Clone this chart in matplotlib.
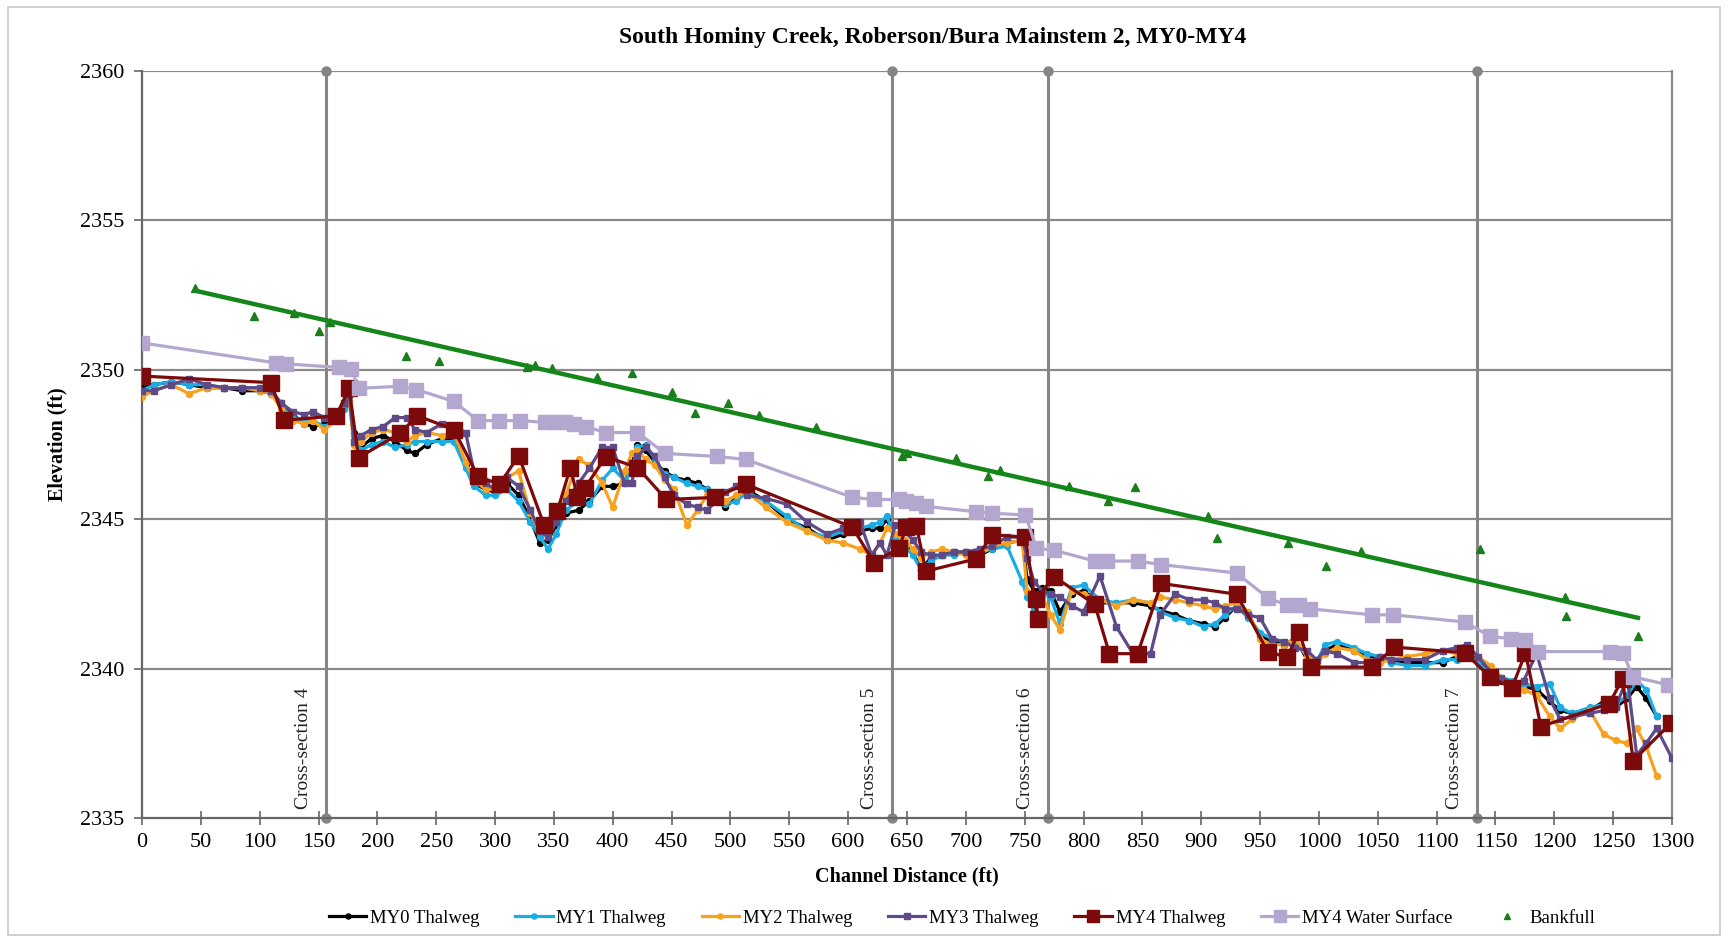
import matplotlib
matplotlib.use('Agg')
import matplotlib.pyplot as plt
from matplotlib.patches import Rectangle

plt.rcParams['font.family'] = ['Liberation Serif', 'DejaVu Serif']

# ---------------- text ----------------
title = "South Hominy Creek, Roberson/Bura Mainstem 2, MY0-MY4"
x_label = "Channel Distance (ft)"
y_label = "Elevation (ft)"
x_ticks = [0, 50, 100, 150, 200, 250, 300, 350, 400, 450, 500, 550, 600, 650,
           700, 750, 800, 850, 900, 950, 1000, 1050, 1100, 1150, 1200, 1250, 1300]
y_ticks = [2335, 2340, 2345, 2350, 2355, 2360]

# ---------------- cross-sections ----------------
cs_names = ["Cross-section 4", "Cross-section 5", "Cross-section 6", "Cross-section 7"]
cs_x = [156, 637, 770, 1134]

# ---------------- thalweg survey stations (MY0-MY3) ----------------
thalweg_x = [0, 10, 25, 40, 55, 70, 85, 100, 110, 118,
             128, 138, 145, 155, 165, 172, 176, 180, 186, 195,
             205, 215, 225, 232, 242, 255, 265, 275, 282, 292,
             300, 310, 320, 330, 338, 345, 352, 360, 371, 380,
             391, 400, 410, 416, 421, 428, 436, 444, 452, 463,
             472, 480, 488, 495, 505, 514, 530, 548, 565, 582,
             596, 610, 620, 627, 633, 640, 648, 655, 662, 670,
             680, 690, 700, 712, 722, 735, 748, 752, 758, 765,
             772, 780, 790, 800, 814, 828, 842, 857, 865, 878,
             890, 902, 912, 920, 930, 940, 950, 960, 970, 980,
             990, 998, 1005, 1015, 1030, 1041, 1052, 1061, 1075, 1090,
             1105, 1117, 1126, 1135, 1146, 1155, 1165, 1174, 1185, 1196,
             1205, 1215, 1230, 1242, 1252, 1262, 1270, 1278, 1287]

my0_y = [2349.4, 2349.5, 2349.6, 2349.5, 2349.4, 2349.4, 2349.3, 2349.3, 2349.2, 2348.9,
         2348.5, 2348.2, 2348.1, 2348.2, 2348.4, 2348.8, 2349.1, 2347.9, 2347.4, 2347.7,
         2347.8, 2347.6, 2347.3, 2347.2, 2347.5, 2347.7, 2347.7, 2346.8, 2346.2, 2346.0,
         2345.9, 2346.2, 2345.8, 2345.0, 2344.2, 2344.3, 2344.8, 2345.2, 2345.3, 2345.6,
         2346.1, 2346.1, 2346.2, 2346.8, 2347.5, 2347.3, 2346.9, 2346.6, 2346.4, 2346.3,
         2346.2, 2346.0, 2345.7, 2345.4, 2345.7, 2346.0, 2345.6, 2345.0, 2344.7, 2344.3,
         2344.5, 2344.6, 2344.7, 2344.7, 2345.0, 2344.3, 2344.2, 2343.9, 2343.3, 2343.7,
         2343.8, 2343.9, 2343.9, 2343.8, 2344.0, 2344.2, 2344.3, 2343.0, 2342.6, 2342.7,
         2342.6, 2341.9, 2342.5, 2342.6, 2342.2, 2342.2, 2342.2, 2342.1, 2341.95, 2341.8,
         2341.6, 2341.5, 2341.4, 2341.7, 2342.1, 2341.8, 2341.1, 2340.9, 2340.8, 2341.0,
         2340.3, 2340.1, 2340.6, 2340.8, 2340.6, 2340.4, 2340.4, 2340.3, 2340.2, 2340.2,
         2340.2, 2340.4, 2340.6, 2340.3, 2339.9, 2339.6, 2339.5, 2339.4, 2339.3, 2338.9,
         2338.6, 2338.5, 2338.6, 2338.9, 2338.7, 2339.0, 2339.4, 2339.0, 2338.4]

my1_y = [2349.3, 2349.5, 2349.6, 2349.5, 2349.5, 2349.4, 2349.4, 2349.4, 2349.2, 2348.8,
         2348.4, 2348.3, 2348.3, 2348.1, 2348.3, 2348.7, 2349.0, 2347.8, 2347.3, 2347.5,
         2347.6, 2347.4, 2347.5, 2347.6, 2347.6, 2347.6, 2347.6, 2346.7, 2346.1, 2345.8,
         2345.8, 2346.0, 2345.6, 2344.9, 2344.4, 2344.0, 2344.5, 2345.3, 2345.6, 2345.5,
         2346.3, 2346.7, 2346.3, 2346.6, 2347.4, 2347.5, 2347.0, 2346.5, 2346.4, 2346.2,
         2346.1, 2346.0, 2345.8, 2345.5, 2345.6, 2345.9, 2345.6, 2345.1, 2344.6, 2344.4,
         2344.6, 2344.7, 2344.8, 2344.9, 2345.1, 2344.3, 2344.1, 2343.8, 2343.3, 2343.6,
         2343.8, 2343.8, 2343.9, 2343.9, 2344.0, 2344.1, 2342.9, 2342.4, 2342.0, 2342.5,
         2342.4, 2341.5, 2342.7, 2342.8, 2342.3, 2342.2, 2342.3, 2342.2, 2341.9, 2341.7,
         2341.6, 2341.4, 2341.5, 2341.8, 2342.1, 2341.7, 2341.2, 2341.0, 2340.9, 2340.9,
         2340.4, 2340.2, 2340.8, 2340.9, 2340.7, 2340.5, 2340.4, 2340.2, 2340.1, 2340.1,
         2340.3, 2340.3, 2340.5, 2340.2, 2339.8, 2339.7, 2339.6, 2339.5, 2339.4, 2339.5,
         2338.7, 2338.5, 2338.7, 2338.8, 2338.8, 2339.1, 2339.6, 2339.3, 2338.4]

my2_y = [2349.1, 2349.3, 2349.5, 2349.2, 2349.4, 2349.4, 2349.4, 2349.3, 2349.2, 2348.7,
         2348.3, 2348.2, 2348.3, 2348.0, 2348.3, 2348.9, 2349.0, 2347.5, 2347.6, 2347.9,
         2348.0, 2347.9, 2347.6, 2347.8, 2347.9, 2347.8, 2347.9, 2346.9, 2346.3, 2346.0,
         2346.0, 2346.4, 2346.6, 2345.2, 2344.6, 2344.5, 2345.0, 2345.8, 2347.0, 2346.8,
         2346.2, 2345.4, 2346.6, 2347.2, 2347.3, 2347.0, 2346.8, 2346.3, 2346.0, 2344.8,
         2345.3, 2345.8, 2345.9, 2345.6, 2345.8, 2345.9, 2345.4, 2344.9, 2344.6, 2344.3,
         2344.2, 2344.0, 2343.8, 2344.2, 2344.7, 2344.5, 2344.3, 2344.0, 2343.7, 2343.9,
         2344.0, 2343.9, 2343.8, 2343.8, 2344.1, 2344.2, 2344.3, 2342.6, 2342.2, 2342.4,
         2341.8, 2341.3, 2342.6, 2342.5, 2342.3, 2342.1, 2342.3, 2342.2, 2342.4, 2342.3,
         2342.2, 2342.1, 2342.0, 2342.1, 2342.2, 2341.9, 2341.0, 2340.8, 2340.8, 2341.0,
         2340.4, 2340.2, 2340.5, 2340.7, 2340.6, 2340.3, 2340.2, 2340.3, 2340.4, 2340.5,
         2340.6, 2340.5, 2340.6, 2340.4, 2340.1, 2339.7, 2339.5, 2339.3, 2339.1, 2338.4,
         2338.0, 2338.3, 2338.6, 2337.8, 2337.6, 2337.5, 2338.0, 2337.4, 2336.4]

my3_y = [2349.3, 2349.3, 2349.5, 2349.7, 2349.5, 2349.4, 2349.4, 2349.4, 2349.3, 2348.9,
         2348.6, 2348.5, 2348.6, 2348.4, 2348.5, 2348.9, 2349.2, 2347.6, 2347.8, 2348.0,
         2348.1, 2348.4, 2348.4, 2348.0, 2347.9, 2348.2, 2348.1, 2347.9, 2346.6, 2346.2,
         2346.0, 2346.4, 2346.1, 2345.3, 2344.6, 2344.4, 2344.9, 2345.6, 2346.2, 2346.7,
         2347.4, 2347.4, 2346.2, 2346.2, 2347.1, 2347.4, 2347.1, 2346.4, 2345.8, 2345.5,
         2345.4, 2345.3, 2345.6, 2345.9, 2346.1, 2345.8, 2345.7, 2345.5, 2344.9, 2344.5,
         2344.7, 2344.9, 2343.8, 2344.2, 2343.8, 2344.8, 2344.6, 2344.3, 2343.9, 2343.8,
         2343.8, 2343.9, 2343.9, 2344.0, 2344.1, 2344.4, 2344.4, 2343.7, 2342.9, 2342.6,
         2342.5, 2342.4, 2342.1, 2341.9, 2343.1, 2341.4, 2340.5, 2340.5, 2341.8, 2342.5,
         2342.3, 2342.3, 2342.2, 2342.0, 2342.0, 2341.8, 2341.7, 2341.0, 2340.9, 2340.7,
         2340.6, 2340.3, 2340.6, 2340.5, 2340.2, 2340.2, 2340.4, 2340.3, 2340.3, 2340.3,
         2340.6, 2340.7, 2340.8, 2340.4, 2339.9, 2339.7, 2339.5, 2339.6, 2340.5, 2339.0,
         2338.3, 2338.4, 2338.5, 2338.6, 2338.7, 2339.7, 2337.1, 2337.5, 2338.0]
my3_tail_x = [1300]
my3_tail_y = [2337.0]

# ---------------- MY4 thalweg ----------------
my4_x = [0, 109.5, 121, 165, 176, 184, 219, 234, 265, 285.5,
         304, 320, 341.6, 353, 364, 370, 376, 394, 421, 445.5,
         486.7, 513, 603.6, 622, 643, 649.5, 658, 666, 708.5, 722.5,
         750.6, 761, 760, 775, 809.5, 822, 846, 866, 930, 956.5,
         973, 983, 993, 1045.5, 1064, 1124, 1145.5, 1164, 1175.5, 1188.6,
         1246.6, 1258, 1267, 1299]
my4_y = [2349.79, 2349.57, 2348.31, 2348.46, 2349.38, 2347.06, 2347.87, 2348.46, 2348.0, 2346.43,
         2346.17, 2347.13, 2344.81, 2345.29, 2346.73, 2345.73, 2346.03, 2347.09, 2346.73, 2345.66,
         2345.73, 2346.17, 2344.73, 2343.55, 2344.03, 2344.73, 2344.77, 2343.26, 2343.67, 2344.48,
         2344.4, 2341.67, 2342.34, 2343.08, 2342.15, 2340.5, 2340.5, 2342.85, 2342.49, 2340.57,
         2340.38, 2341.23, 2340.05, 2340.05, 2340.72, 2340.53, 2339.72, 2339.35, 2340.53, 2338.06,
         2338.83, 2339.65, 2336.92, 2338.17]

# ---------------- MY4 water surface ----------------
ws_x = [0, 114, 122, 167, 178, 184, 219, 233, 265, 285.5,
        303, 321, 342.5, 352, 359, 367, 377, 394, 421, 444.5,
        488.5, 513, 603.6, 622, 643, 649.5, 658, 666, 708.5, 722.5,
        750.6, 760, 775, 809.5, 820, 846, 866, 930, 956.5, 973,
        983, 992, 1045.5, 1063, 1124, 1145.5, 1163, 1175.5, 1186, 1247.5,
        1258, 1267, 1297]
ws_y = [2350.9, 2350.23, 2350.2, 2350.08, 2350.04, 2349.38, 2349.45, 2349.34, 2348.94, 2348.3,
        2348.3, 2348.3, 2348.24, 2348.24, 2348.24, 2348.2, 2348.1, 2347.9, 2347.9, 2347.2,
        2347.1, 2347.0, 2345.73, 2345.66, 2345.66, 2345.62, 2345.55, 2345.43, 2345.25, 2345.2,
        2345.14, 2344.03, 2343.96, 2343.6, 2343.6, 2343.6, 2343.48, 2343.2, 2342.37, 2342.12,
        2342.12, 2342.0, 2341.8, 2341.8, 2341.56, 2341.08, 2341.0, 2340.97, 2340.57, 2340.57,
        2340.53, 2339.72, 2339.46]

# ---------------- Bankfull ----------------
bkf_x = [45, 95.5, 129, 150, 160, 224, 252, 327, 334, 348,
         387, 416, 450, 470, 498, 524, 573, 646, 650, 692,
         719, 729, 788, 821, 844, 906, 913, 974, 1006, 1036,
         1137, 1209, 1210, 1271]
bkf_y = [2352.74, 2351.8, 2351.9, 2351.3, 2351.6, 2350.45, 2350.3, 2350.1, 2350.15, 2350.05,
         2349.75, 2349.9, 2349.27, 2348.55, 2348.9, 2348.5, 2348.1, 2347.1, 2347.2, 2347.05,
         2346.45, 2346.65, 2346.12, 2345.6, 2346.08, 2345.1, 2344.38, 2344.2, 2343.42, 2343.95,
         2344.0, 2342.4, 2341.77, 2341.1]
bkf_line_x = [45, 1271]
bkf_line_y = [2352.65, 2341.7]

# ---------------- style ----------------
c_my0 = '#000000'
c_my1 = '#1AADE3'
c_my2 = '#F7A11E'
c_my3 = '#5E4A86'
c_my4 = '#7D0A0A'
c_ws = '#B4A7CF'
c_bkf = '#1B7D1B'
c_line = '#15861A'
c_grid = '#8A8A8A'

fig = plt.figure(figsize=(17.28, 9.42), dpi=100)
ax = fig.add_axes([142 / 1728, 1 - 818 / 942, (1672 - 142) / 1728, (818 - 71) / 942])

# outer chart border
fig.patches.append(Rectangle((8 / 1728, 7 / 942), (1720 - 8) / 1728, (935 - 7) / 942,
                             transform=fig.transFigure, fill=False, edgecolor='#C8C8C8', lw=1.2))

# grid
for yv in y_ticks[1:]:
    ax.axhline(yv, color=c_grid, lw=1.6, zorder=1)

# cross-section lines
for xv in cs_x:
    ax.plot([xv, xv], [y_ticks[0], y_ticks[-1]], color='#858585', lw=2.2, marker='o',
            ms=6.5, zorder=2, clip_on=False)
for name, xv in zip(cs_names, cs_x):
    ax.text(xv - 19, y_ticks[0] + 0.3, name, rotation=90, ha='center', va='bottom',
            fontsize=14, color='#222222', zorder=2)

lw_t = 2.3
ax.plot(thalweg_x, my0_y, color=c_my0, lw=lw_t, marker='o', ms=4.3, zorder=3, label='MY0 Thalweg')
ax.plot(thalweg_x, my1_y, color=c_my1, lw=lw_t, marker='o', ms=4.3, zorder=4, label='MY1 Thalweg')
ax.plot(thalweg_x, my2_y, color=c_my2, lw=lw_t, marker='o', ms=4.3, zorder=5, label='MY2 Thalweg')
ax.plot(thalweg_x + my3_tail_x, my3_y + my3_tail_y, color=c_my3, lw=lw_t, marker='s', ms=4.8,
        zorder=6, label='MY3 Thalweg')
ax.plot(my4_x, my4_y, color=c_my4, lw=2.3, marker='s', ms=11, zorder=7, label='MY4 Thalweg')
ax.plot(ws_x, ws_y, color=c_ws, lw=2.3, marker='s', ms=9.5, zorder=7.5, label='MY4 Water Surface')
ax.plot(bkf_x, bkf_y, linestyle='none', color=c_bkf, marker='^', ms=5.5, zorder=8, label='Bankfull')
ax.plot(bkf_line_x, bkf_line_y, color=c_line, lw=3.2, zorder=8)

ax.set_xlim(x_ticks[0], x_ticks[-1])
ax.set_ylim(y_ticks[0], y_ticks[-1])
ax.set_xticks(x_ticks)
ax.set_yticks(y_ticks)
ax.tick_params(axis='x', direction='inout', length=10, width=1.2, color='#666666',
               labelsize=16, pad=6)
ax.tick_params(axis='y', direction='out', length=6, width=1.2, color='#666666',
               labelsize=16, pad=7)

for s in ['left', 'bottom']:
    ax.spines[s].set_color('#666666')
    ax.spines[s].set_linewidth(1.6)
ax.spines['right'].set_color(c_grid)
ax.spines['right'].set_linewidth(1.6)
ax.spines['top'].set_visible(False)

ax.set_xlabel(x_label, fontsize=14.5, fontweight='bold', labelpad=10)
ax.set_ylabel(y_label, fontsize=14.5, fontweight='bold', labelpad=9)
fig.text(933 / 1728, 1 - 38 / 942, title, ha='center', va='center', fontsize=17,
         fontweight='bold')

handles, labels = ax.get_legend_handles_labels()
fig.legend(handles, labels, loc='center', bbox_to_anchor=(962 / 1728, 1 - 918 / 942),
           ncol=7, frameon=False, fontsize=13.5, handlelength=2.0, handletextpad=0.2,
           columnspacing=1.9, markerscale=0.85)

fig.savefig('out.png', dpi=100)
